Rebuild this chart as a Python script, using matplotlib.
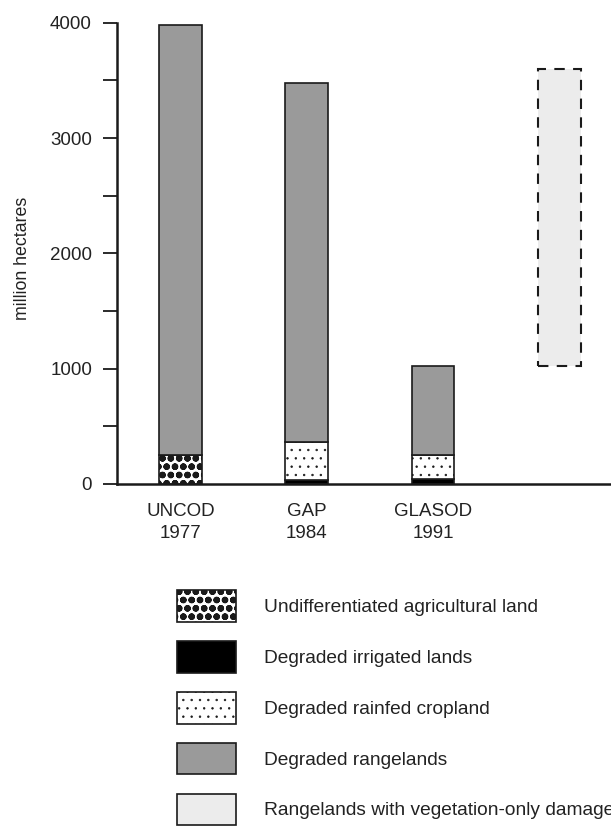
import matplotlib
matplotlib.use("Agg")
import matplotlib.pyplot as plt
from matplotlib.patches import Patch
from matplotlib.ticker import MultipleLocator

plt.rcParams['font.family'] = ['Liberation Sans', 'DejaVu Sans']
plt.rcParams['text.color'] = '#222222'

# --- data (million hectares) ---
surveys = ["UNCOD\n1977", "GAP\n1984", "GLASOD\n1991"]
undifferentiated = [250, 0, 0]
irrigated = [0, 35, 40]
rainfed = [0, 330, 210]
rangelands = [3730, 3110, 775]
veg_only = 2575  # separate dashed bar stacked on the GLASOD total

legend_labels = ["Undifferentiated agricultural land",
                 "Degraded irrigated lands",
                 "Degraded rainfed cropland",
                 "Degraded rangelands",
                 "Rangelands with vegetation-only damage"]

fig = plt.figure(figsize=(6.11, 8.27), dpi=100)
ax = fig.add_axes([117 / 611, 343 / 827, 494 / 611, 461.3 / 827])

x = range(len(surveys))
w = 0.34
ink = '#1a1a1a'
gray = '#9a9a9a'
light = '#ececec'
blob_lw = 2.3
dot_lw = 0.5

# stacked bars
b1 = [0, 0, 0]
with plt.rc_context({'hatch.linewidth': blob_lw}):
    ax.bar(x, undifferentiated, w, bottom=b1, facecolor='white', edgecolor=ink,
           hatch='oo', linewidth=1.2)
b2 = [b1[i] + undifferentiated[i] for i in x]
ax.bar(x, irrigated, w, bottom=b2, facecolor='black', edgecolor=ink, linewidth=1.2)
b3 = [b2[i] + irrigated[i] for i in x]
with plt.rc_context({'hatch.linewidth': dot_lw}):
    ax.bar(x, rainfed, w, bottom=b3, facecolor='white', edgecolor=ink,
           hatch='..', linewidth=1.2)
b4 = [b3[i] + rainfed[i] for i in x]
ax.bar(x, rangelands, w, bottom=b4, facecolor=gray, edgecolor=ink, linewidth=1.2)
totals = [b4[i] + rangelands[i] for i in x]

# vegetation-only damage (dashed outline)
ax.bar([3], [veg_only], w, bottom=[totals[2]], facecolor=light,
       edgecolor=ink, linewidth=1.5, linestyle=(0, (5, 4)))

ax.set_xlim(-0.503, 3.41)
ax.set_ylim(0, 4000)
ax.set_xticks(list(x))
ax.set_xticklabels(surveys, fontsize=13.5, color='#222222', linespacing=1.37)
ax.tick_params(axis='x', length=0, pad=14)
ax.yaxis.set_major_locator(MultipleLocator(1000))
ax.yaxis.set_minor_locator(MultipleLocator(500))
ax.tick_params(axis='y', which='both', length=10, width=1.3, direction='out',
               labelsize=13.5, labelcolor='#222222', pad=8, color=ink)
ax.set_ylabel("million hectares", fontsize=12.8, color='#222222')
ax.yaxis.set_label_coords(-0.174, 0.49)

for s in ['top', 'right']:
    ax.spines[s].set_visible(False)
for s in ['left', 'bottom']:
    ax.spines[s].set_linewidth(1.8)
    ax.spines[s].set_color(ink)

handles = [
    Patch(facecolor='white', edgecolor=ink, hatch='oo', linewidth=1.2),
    Patch(facecolor='black', edgecolor=ink, linewidth=1.2),
    Patch(facecolor='white', edgecolor=ink, hatch='..', linewidth=1.2),
    Patch(facecolor=gray, edgecolor=ink, linewidth=1.2),
    Patch(facecolor=light, edgecolor=ink, linewidth=1.2),
]
leg = fig.legend(handles, legend_labels, loc='upper left',
                 bbox_to_anchor=(177 / 611, 1 - 590 / 827), frameon=False,
                 fontsize=13.8, handlelength=3.1, handleheight=2.17,
                 labelspacing=1.0, handletextpad=1.45, borderpad=0, borderaxespad=0)

# legend swatches are copies, so give them the same hatch widths as the bars
for p, lw in zip(leg.get_patches(), [blob_lw, None, dot_lw, None, None]):
    if lw is None:
        continue
    if hasattr(p, 'set_hatch_linewidth'):
        p.set_hatch_linewidth(lw)
    else:
        p._hatch_linewidth = lw

fig.savefig("out.png", dpi=100, facecolor='white')
